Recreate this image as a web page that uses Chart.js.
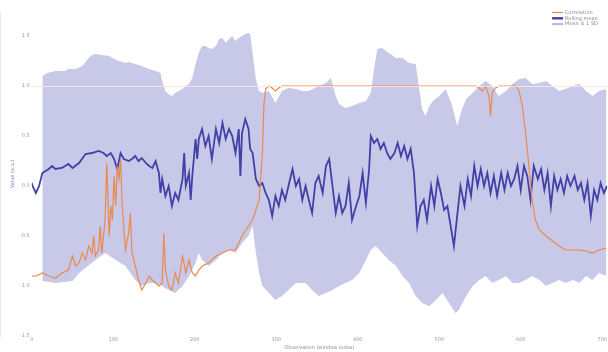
<!DOCTYPE html>
<html>
<head>
<meta charset="utf-8">
<script src="https://cdn.jsdelivr.net/npm/chart.js@4/dist/chart.umd.min.js"></script>
<style>
  html, body { margin: 0; padding: 0; background: #ffffff; }
  #wrap { width: 608px; height: 352px; }
</style>
</head>
<body>
<div id="wrap"><canvas id="c" width="608" height="352"></canvas></div>
<script>
// ---- labels ----
const corrLabel = "Correlation";
const meanLabel = "Rolling mean";
const bandLabel = "Mean \u00B1 1 SD";
const xTitle = "Observation (window index)";
const yTitle = "Value (a.u.)";

// ---- tick values ----
const xTickValues = [0, 100, 200, 300, 400, 500, 600, 700];
const yTickValues = [-1.5, -1.0, -0.5, 0.0, 0.5, 1.0, 1.5];

// ---- series: orange correlation line ----
const corrX = [0,5,13,21,29,37,45,50,54,58,62,66,70,74,76,78,82,84,86,90,92,95,97,99,101,103,105,107,109,111,115,119,121,123,127,131,135,140,144,148,152,156,160,162,164,168,172,176,180,185,189,193,197,201,205,209,217,226,234,242,250,258,266,271,275,279,283,285,287,291,295,299,303,307,545,549,553,557,561,563,565,569,574,594,598,602,606,610,614,618,623,631,639,647,655,664,672,680,688,696,705];
const corrY = [-0.90,-0.90,-0.87,-0.90,-0.92,-0.87,-0.84,-0.70,-0.80,-0.77,-0.67,-0.74,-0.60,-0.67,-0.50,-0.70,-0.64,-0.40,-0.67,-0.34,0.23,-0.50,-0.20,-0.34,0.10,-0.20,0.20,0.07,0.27,-0.20,-0.64,-0.47,-0.27,-0.67,-0.80,-0.94,-1.04,-0.97,-0.90,-0.94,-0.97,-1.00,-0.97,-0.47,-0.84,-1.00,-1.04,-0.87,-0.97,-0.70,-0.87,-0.74,-0.87,-0.90,-0.84,-0.80,-0.77,-0.70,-0.67,-0.64,-0.64,-0.50,-0.40,-0.34,-0.24,-0.14,0.33,0.83,0.97,1.00,0.98,0.95,0.98,1.00,1.00,0.98,0.95,1.00,0.90,0.70,0.93,0.98,1.00,1.00,0.95,0.80,0.53,0.20,-0.14,-0.34,-0.44,-0.50,-0.55,-0.60,-0.64,-0.64,-0.64,-0.65,-0.67,-0.64,-0.62];

// ---- series: blue rolling mean ----
const meanX = [0,1,5,9,13,21,25,29,37,45,50,58,66,74,82,88,92,97,101,105,109,113,119,123,127,131,135,140,144,148,152,156,158,160,164,168,172,176,180,185,187,189,193,195,197,201,203,205,209,213,217,221,226,230,234,238,242,246,250,254,256,258,262,266,268,271,275,279,283,287,291,295,299,303,307,311,315,320,324,328,332,336,340,344,348,352,357,361,365,369,373,377,381,385,389,393,398,402,406,410,414,416,420,424,428,432,436,440,445,449,453,457,461,465,469,473,477,481,485,490,494,498,502,506,510,514,518,522,526,531,535,539,543,547,551,555,559,563,567,571,576,580,584,588,592,596,600,604,608,612,616,621,625,629,633,637,641,645,649,653,657,661,666,670,674,678,682,686,690,694,698,702,706];
const meanY = [0.03,0.00,-0.07,0.00,0.13,0.17,0.20,0.17,0.18,0.22,0.18,0.23,0.32,0.33,0.35,0.33,0.30,0.33,0.27,0.17,0.33,0.27,0.25,0.27,0.30,0.25,0.28,0.23,0.20,0.18,0.25,0.13,-0.07,0.07,-0.10,0.00,-0.20,-0.07,-0.14,0.07,0.33,0.00,0.13,-0.14,0.10,0.47,0.27,0.47,0.57,0.40,0.50,0.27,0.57,0.43,0.63,0.47,0.57,0.50,0.33,0.57,0.10,0.53,0.67,0.57,0.37,0.33,0.07,0.00,0.03,-0.07,-0.14,-0.30,-0.10,-0.20,-0.04,-0.14,0.00,0.17,0.00,0.07,-0.14,0.00,-0.14,-0.27,0.03,0.10,-0.07,0.20,0.27,0.00,-0.27,-0.10,-0.27,-0.20,0.03,-0.34,-0.20,-0.10,0.13,-0.17,0.17,0.50,0.43,0.47,0.37,0.43,0.33,0.27,0.33,0.43,0.30,0.40,0.27,0.37,0.13,-0.40,-0.20,-0.14,-0.34,0.00,-0.20,0.07,-0.07,-0.24,-0.20,-0.40,-0.60,-0.30,0.00,-0.20,0.07,-0.10,0.20,0.00,0.17,0.00,0.13,-0.07,0.10,-0.10,0.13,-0.04,0.13,0.00,0.07,0.20,-0.04,0.20,0.10,-0.14,0.20,0.07,0.17,-0.04,0.13,-0.20,0.10,-0.04,0.07,-0.07,0.10,0.00,0.10,-0.04,0.03,-0.14,0.03,-0.30,-0.04,-0.14,0.03,-0.07,0.00];

// ---- series: band upper / lower ----
const upperX = [13,19,29,41,45,54,62,70,74,78,95,99,107,115,119,127,135,144,152,158,160,164,168,172,176,185,189,193,197,201,205,209,213,217,221,226,230,234,238,242,246,250,254,258,262,266,268,271,275,279,283,291,299,307,315,324,332,340,352,361,367,373,377,385,393,402,410,416,420,424,430,438,447,455,463,471,475,479,483,488,492,500,508,516,522,528,533,541,549,557,565,573,582,590,598,606,614,623,631,639,647,655,664,672,680,688,696,705];
const upperY = [1.10,1.13,1.15,1.15,1.17,1.17,1.20,1.28,1.31,1.32,1.30,1.28,1.25,1.23,1.24,1.22,1.20,1.17,1.15,1.13,1.05,0.95,0.92,0.90,0.93,0.97,1.00,1.02,1.08,1.22,1.33,1.40,1.40,1.38,1.37,1.40,1.47,1.48,1.43,1.47,1.50,1.45,1.48,1.50,1.52,1.53,1.52,1.33,1.07,0.95,0.93,0.95,0.83,0.95,0.98,0.97,0.95,0.95,1.00,1.03,1.08,0.90,0.82,0.78,0.80,0.83,0.85,0.93,1.17,1.37,1.38,1.33,1.28,1.28,1.23,1.22,1.00,0.77,0.70,0.80,0.85,0.90,0.97,0.80,0.60,0.77,0.87,0.93,1.00,1.05,1.00,0.90,0.95,1.02,1.07,1.08,1.02,1.03,1.05,1.00,0.95,0.97,1.00,1.02,0.95,0.90,0.95,0.97];
const lowerX = [13,29,50,58,78,90,103,115,127,135,144,152,160,168,176,185,193,201,205,209,217,226,234,242,250,258,266,271,275,279,283,291,299,307,315,324,336,344,352,361,369,377,385,393,402,410,416,422,430,438,447,455,463,471,479,488,496,504,512,520,524,533,541,549,557,565,573,582,590,598,606,614,623,631,639,647,655,664,672,680,688,696,705];
const lowerY = [-0.95,-0.97,-0.95,-0.87,-0.74,-0.67,-0.74,-0.80,-0.94,-1.00,-0.97,-0.97,-1.00,-1.04,-1.07,-1.00,-0.90,-0.77,-0.67,-0.74,-0.80,-0.74,-0.67,-0.64,-0.67,-0.57,-0.50,-0.40,-0.67,-0.87,-1.00,-1.07,-1.14,-1.10,-1.04,-0.97,-0.97,-1.04,-1.10,-1.07,-1.04,-1.00,-0.97,-0.94,-0.87,-0.74,-0.64,-0.60,-0.67,-0.74,-0.80,-0.90,-0.97,-1.10,-1.17,-1.20,-1.14,-1.07,-1.17,-1.27,-1.24,-1.10,-1.00,-0.94,-0.90,-0.97,-0.94,-0.90,-0.97,-0.97,-0.94,-0.90,-0.94,-1.00,-0.97,-0.94,-0.97,-0.94,-0.97,-0.90,-0.94,-0.87,-0.90];

// ---- axis ranges ----
const xMin = 0, xMax = 706;
const yMin = -1.5, yMax = 1.74;
const refLineValue = 1;

const toPts = (xs, ys) => xs.map((x, i) => ({ x: x, y: ys[i] }));

const COL_ORANGE = '#e98a4c';
const COL_BLUE = '#4141a8';
const COL_BAND = 'rgba(150,150,210,0.52)';
const FONT = { size: 5, family: 'DejaVu Sans' };

const insideLegend = {
  id: 'insideLegend',
  afterDraw(chart) {
    const ctx = chart.ctx;
    const area = chart.chartArea;
    const items = chart.data.datasets.filter(d => d.showInLegend);
    ctx.save();
    ctx.font = '5px "DejaVu Sans", sans-serif';
    ctx.textBaseline = 'middle';
    ctx.textAlign = 'left';
    let y = area.top + 0.5;
    const x0 = area.right - 55;
    items.forEach(d => {
      ctx.fillStyle = d.legendColor;
      ctx.fillRect(x0, y - d.legendThickness / 2, 11, d.legendThickness);
      ctx.fillStyle = '#8a8a9a';
      ctx.fillText(d.label, x0 + 13, y);
      y += 5.8;
    });
    ctx.restore();
  }
};

new Chart(document.getElementById('c'), {
  type: 'line',
  data: {
    datasets: [
      { label: corrLabel, data: toPts(corrX, corrY), borderColor: COL_ORANGE, backgroundColor: COL_ORANGE,
        borderWidth: 1.2, pointRadius: 0, fill: false, tension: 0,
        showInLegend: true, legendColor: COL_ORANGE, legendThickness: 1.2 },
      { label: meanLabel, data: toPts(meanX, meanY), borderColor: COL_BLUE, backgroundColor: COL_BLUE,
        borderWidth: 1.8, pointRadius: 0, fill: false, tension: 0,
        showInLegend: true, legendColor: COL_BLUE, legendThickness: 2.4 },
      { label: bandLabel, data: toPts(upperX, upperY), borderColor: 'rgba(0,0,0,0)', backgroundColor: COL_BAND,
        borderWidth: 0, pointRadius: 0, fill: '+1', tension: 0,
        showInLegend: true, legendColor: 'rgba(150,150,210,0.7)', legendThickness: 2 },
      { label: 'lower', data: toPts(lowerX, lowerY), borderColor: 'rgba(0,0,0,0)', backgroundColor: COL_BAND,
        borderWidth: 0, pointRadius: 0, fill: false, tension: 0, showInLegend: false }
    ]
  },
  options: {
    responsive: false,
    animation: false,
    devicePixelRatio: 1,
    layout: { padding: { top: 12, left: 9, right: 0, bottom: 0 } },
    plugins: { legend: { display: false }, tooltip: { enabled: false } },
    scales: {
      x: {
        type: 'linear', min: xMin, max: xMax,
        afterBuildTicks: axis => { axis.ticks = xTickValues.map(v => ({ value: v })); },
        ticks: { font: FONT, color: '#9a9a9a', padding: 1, maxRotation: 0, autoSkip: false,
                 callback: v => String(v) },
        grid: { display: false, drawTicks: false },
        border: { display: false },
        title: { display: true, text: xTitle, font: FONT, color: '#8a8a9a', padding: { top: 1, bottom: 1 } }
      },
      y: {
        min: yMin, max: yMax,
        afterBuildTicks: axis => { axis.ticks = yTickValues.map(v => ({ value: v })); },
        ticks: { font: FONT, color: '#9a9a9a', padding: 2, autoSkip: false,
                 callback: v => Number(v).toFixed(1) },
        grid: { z: 1, drawTicks: false, color: c => (c.tick && Math.abs(c.tick.value - refLineValue) < 1e-9) ? 'rgba(250,232,220,0.95)' : 'rgba(0,0,0,0)' },
        border: { display: true, color: '#d4d4d4', width: 1 },
        title: { display: true, text: yTitle, font: FONT, color: '#7c7cae', padding: { top: 1, bottom: 2 } }
      }
    }
  },
  plugins: [insideLegend]
});
</script>
</body>
</html>
